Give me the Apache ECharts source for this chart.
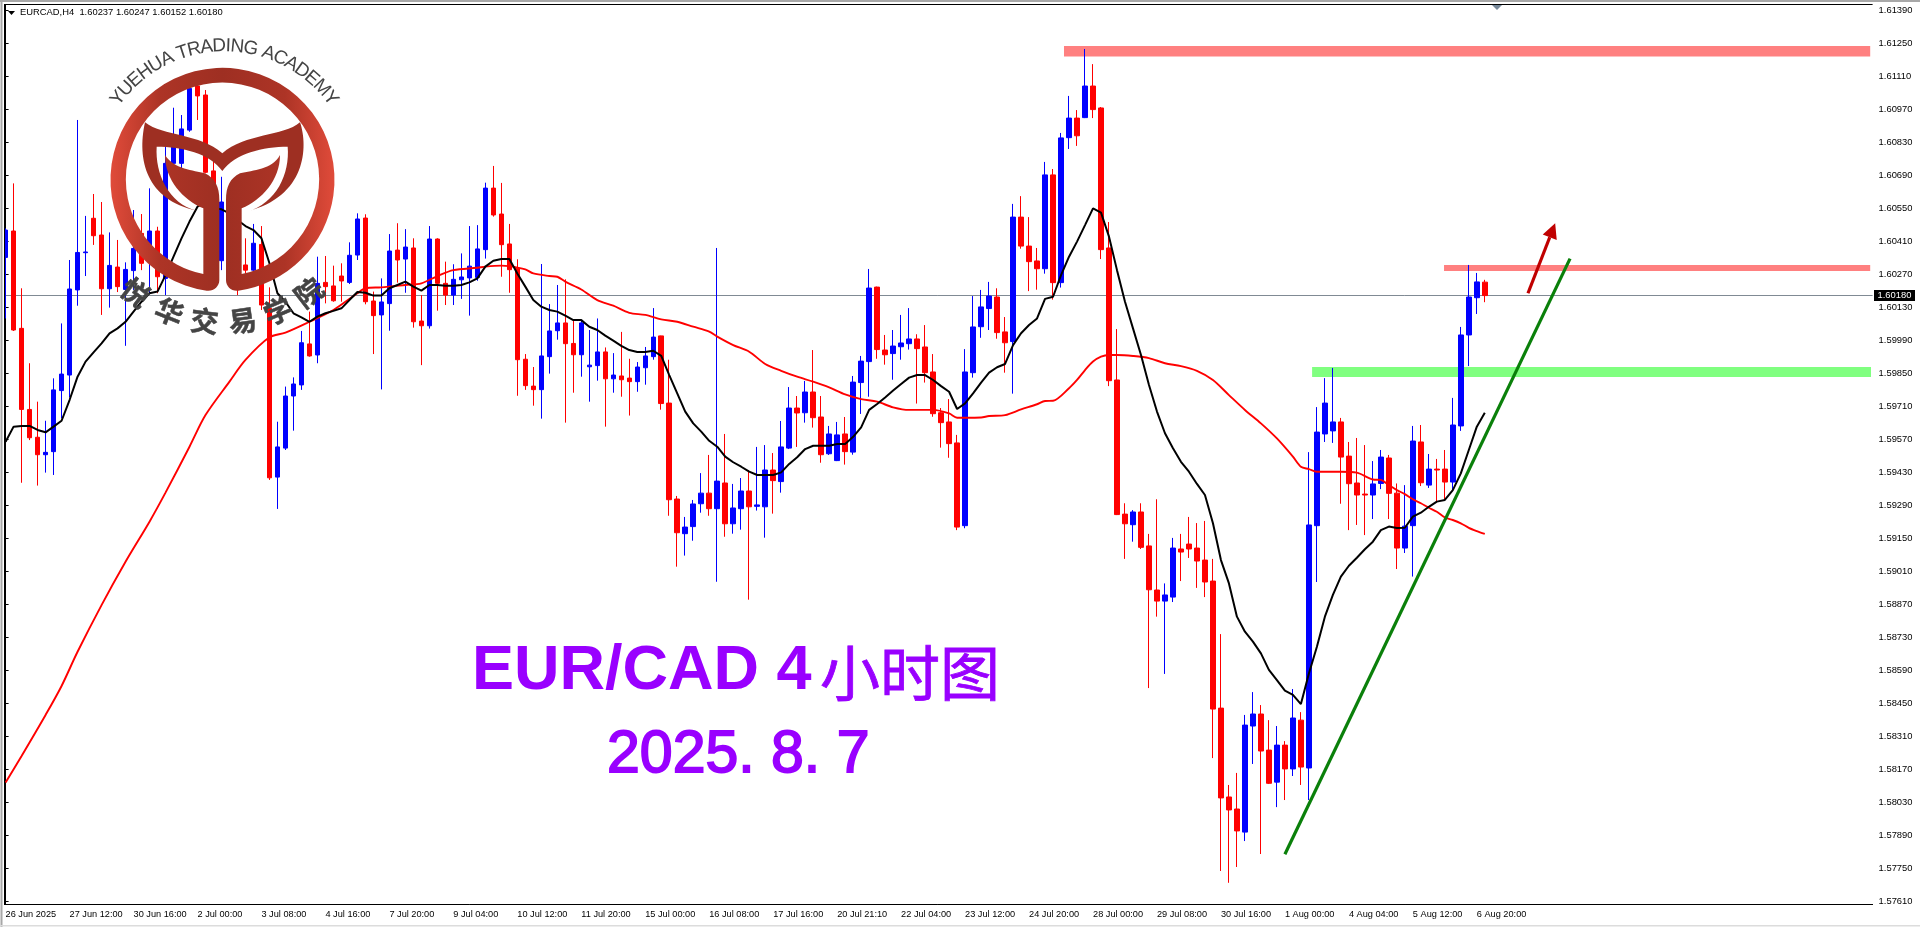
<!DOCTYPE html>
<html><head><meta charset="utf-8">
<style>html,body{margin:0;padding:0;background:#fff}#c{width:1920px;height:927px}</style>
<script src="https://cdn.jsdelivr.net/npm/echarts@6/dist/echarts.min.js"></script>
</head><body><div id="c"></div>
<script>
// Prices are stored in points above 1: 60342 means 1.60342
const opens=[60342,60454,60041,59697,59579,59505,59518,59777,59843,60204,
60362,60508,60437,60209,60301,60206,60286,60444,60387,60454,
60253,60741,60741,60882,61069,61031,60709,60328,60494,60402,
60310,60288,60397,60126,59410,59533,59754,59801,59975,59928,
60236,60221,60263,60236,60352,60509,60157,60098,60146,60373,
60335,60382,60072,60052,60420,60232,60182,60247,60255,60257,
60375,60636,60526,60399,60296,59910,59796,59781,59921,60031,
60064,59977,59929,59878,59883,59941,59827,59839,59830,59815,
59874,59921,60009,59724,59317,59170,59200,59297,59342,59276,
59385,59212,59276,59351,59286,59284,59440,59391,59533,59703,
59683,59771,59665,59509,59480,59593,59516,59811,59900,60216,
59949,59934,59963,59976,59996,59962,59856,59683,59644,59555,
59204,59853,60048,60125,60174,60026,59985,60513,60390,60327,
60294,60692,60235,60850,60933,60935,61069,60976,60382,59822,
59253,59208,59262,59118,58931,58884,58901,59105,59126,59109,
59058,58969,58430,58053,58002,57904,58354,58405,58252,58116,
58273,58172,58379,58176,59204,59593,59606,59644,59499,59385,
59338,59334,59383,59491,59342,59109,59204,59559,59376,59444,
59444,59389,59627,60013,60171,60237];
const highs=[60465,60656,60211,59893,59730,59649,59829,60062,60331,60925,
60518,60611,60577,60448,60416,60321,60543,60526,60635,60472,
60812,60977,60946,61080,61109,61052,60755,60684,60529,60444,
60423,60484,60475,60215,59645,59794,59833,60030,60112,60345,
60348,60307,60317,60406,60529,60525,60197,60253,60441,60487,
60462,60423,60182,60475,60423,60324,60313,60359,60475,60479,
60659,60730,60658,60484,60334,59932,59877,60314,60144,60225,
60249,60076,60076,60034,60083,59960,59936,60026,59912,59898,
59962,60127,60010,59908,59330,59241,59313,59427,59504,60382,
59593,59381,59406,59440,59538,59546,59512,59648,59792,59754,
59818,59949,59754,59627,59644,59665,59839,59924,60293,60218,
60013,60034,60098,60127,60016,60055,59932,59703,59741,59589,
59953,60178,60204,60238,60211,60089,60569,60602,60513,60382,
60747,60717,60870,61027,60967,61226,61162,60980,60492,60038,
59299,59270,59299,59169,59316,58959,59152,59169,59241,59215,
59224,59063,58744,58104,58155,58401,58498,58443,58379,58354,
58290,58511,58413,59516,59707,59830,59873,59661,59559,59576,
59546,59478,59525,59504,59383,59376,59627,59631,59508,59487,
59525,59746,60047,60310,60276,60247];
const lows=[60083,60030,59386,59567,59374,59429,59419,59659,59748,60137,
60263,60395,60098,60129,60195,59967,60204,60288,60190,60190,
60182,60684,60624,60875,60925,60699,60529,60288,60359,60182,
60274,60281,60119,59398,59275,59525,59607,59780,59921,59893,
60147,60154,60154,60229,60331,60143,59932,59782,60031,60235,
60192,60044,59885,60040,60116,60140,60140,60166,60095,60243,
60337,60515,60260,60192,59755,59780,59713,59658,59849,59993,
59641,59768,59836,59730,59819,59624,59768,59751,59671,59772,
59802,59908,59696,59246,59030,59077,59140,59259,59246,58966,
59157,59170,59187,58890,59268,59153,59255,59344,59529,59538,
59641,59620,59471,59504,59478,59463,59505,59678,59751,59912,
59887,59823,59908,59951,59722,59811,59666,59535,59492,59185,
59193,59832,60001,60034,59997,59853,59764,60379,60199,60205,
60273,60163,60214,60802,60815,60933,60933,60335,59796,59249,
59063,59136,59105,58515,58818,58575,58880,58969,59067,58940,
58901,58218,57739,57689,57756,57866,58193,57811,58108,58010,
58040,58142,58104,58040,58965,59559,59555,59297,59185,59207,
59164,59232,59359,59232,59020,59088,58988,59372,59364,59306,
59313,59355,59606,59881,60102,60152];
const closes=[60458,60034,59697,59577,59505,59515,59780,59847,60208,60363,
60365,60434,60209,60308,60218,60291,60380,60317,60454,60260,
60741,60812,60887,61059,61027,60703,60586,60577,60402,60218,
60288,60402,60140,59407,59538,59754,59805,59980,59924,60232,
60218,60158,60242,60351,60505,60154,60095,60153,60369,60331,
60386,60069,60052,60420,60232,60182,60249,60259,60305,60378,
60636,60522,60396,60290,59908,59798,59781,59924,60030,60064,
59976,59929,60064,59885,59941,59827,59843,59823,59815,59877,
59924,60004,59722,59314,59174,59198,59296,59342,59276,59393,
59212,59279,59351,59284,59292,59440,59395,59538,59703,59682,
59771,59662,59505,59593,59589,59518,59813,59902,60212,59951,
59929,59966,59979,59996,59955,59853,59679,59641,59552,59198,
59856,60047,60132,60178,60023,59980,60513,60390,60324,60294,
60692,60235,60849,60933,60858,61069,60969,60375,59819,59251,
59212,59262,59112,58932,58884,58910,59109,59092,59105,59054,
58965,58426,58049,57998,57909,58358,58405,58248,58111,58273,
58172,58388,58180,59207,59601,59724,59644,59495,59382,59334,
59334,59381,59495,59341,59109,59202,59563,59386,59444,59440,
59389,59631,60013,60174,60238,60180];
const maFast=[59560,59624,59627,59627,59610,59600,59624,59649,59737,59836,
59900,59939,59977,60020,60041,60069,60112,60154,60190,60197,
60267,60345,60423,60494,60557,60577,60550,60546,60529,60501,
60475,60458,60423,60317,60190,60154,60105,60088,60069,60091,
60105,60115,60126,60161,60195,60192,60180,60180,60211,60225,
60239,60218,60201,60225,60225,60222,60222,60225,60236,60253,
60303,60328,60335,60335,60274,60218,60161,60133,60119,60112,
60095,60076,60076,60048,60034,60010,59989,59967,59949,59941,
59941,59946,59924,59843,59765,59688,59638,59603,59564,59539,
59497,59473,59454,59433,59419,59419,59419,59430,59466,59494,
59529,59543,59543,59543,59550,59550,59581,59621,59695,59720,
59748,59777,59805,59832,59843,59843,59822,59796,59772,59699,
59723,59765,59811,59853,59876,59890,59970,60020,60055,60083,
60166,60175,60267,60345,60409,60479,60550,60532,60430,60288,
60154,60041,59928,59801,59688,59596,59532,59475,59433,59381,
59334,59214,59058,58959,58818,58754,58712,58662,58592,58549,
58504,58486,58447,58577,58690,58818,58910,58988,59034,59068,
59104,59136,59185,59200,59194,59195,59242,59259,59284,59306,
59313,59355,59426,59525,59624,59683];
const maSlowIdx=[0,2,5,7,9,12,15,18,20,23,25,28,30,33,35,38,41,44,45,47,50,52,54,56,59,60,62,63,65,66,68,69,70,72,74,76,78,80,82,84,86,88,89,91,93,95,97,99,101,103,105,107,109,111,113,115,116,118,119,120,122,123,125,127,129,130,131,133,134,135,136,137,138,139,141,143,145,147,149,151,153,155,157,159,161,162,163,164,167,169,171,172,173,174,175,176,177,178,179,180,181,182,183,184,185];
const maSlow=[58114,58227,58401,58524,58669,58867,59051,59221,59344,59539,59673,59815,59907,60003,60023,60069,60119,60190,60211,60215,60225,60232,60263,60288,60298,60303,60307,60305,60291,60274,60263,60260,60239,60206,60161,60137,60107,60098,60079,60069,60048,60027,60006,59970,59942,59890,59861,59836,59815,59791,59761,59741,59730,59706,59695,59695,59695,59680,59662,59662,59663,59669,59673,59697,59719,59733,59734,59787,59822,59864,59900,59921,59928,59928,59924,59915,59893,59881,59861,59822,59758,59695,59638,59574,59497,59454,59444,59433,59433,59429,59400,59398,59376,59355,59338,59316,59299,59280,59263,59239,59228,59214,59195,59181,59169];
const xTickLabels=['26 Jun 2025','27 Jun 12:00','30 Jun 16:00','2 Jul 00:00','3 Jul 08:00','4 Jul 16:00','7 Jul 20:00','9 Jul 04:00','10 Jul 12:00','11 Jul 20:00','15 Jul 00:00','16 Jul 08:00','17 Jul 16:00','20 Jul 21:10','22 Jul 04:00','23 Jul 12:00','24 Jul 20:00','28 Jul 00:00','29 Jul 08:00','30 Jul 16:00','1 Aug 00:00','4 Aug 04:00','5 Aug 12:00','6 Aug 20:00'];
const yTicks=[1.5761,1.5775,1.5789,1.5803,1.5817,1.5831,1.5845,1.5859,1.5873,1.5887,1.5901,1.5915,1.5929,1.5943,1.5957,1.5971,1.5985,1.5999,1.6013,1.6027,1.6041,1.6055,1.6069,1.6083,1.6097,1.6111,1.6125,1.6139];
const lastPrice=1.6018;
// zones: start bar, end bar, upper price, lower price
const zones=[[132.37,233.2,61239,61194,'#ff8080'],[179.9,233.2,60310,60284,'#ff8080'],[163.4,233.3,59877,59835,'#80ff80']];
const trendLine=[[160.0,57810],[195.66,60337]];
const arrowLine=[[190.4,60190],[193.8,60487]];
const logoEn='YUEHUA TRADING ACADEMY';
const logoCn=['悦','华','交','易','学','院'];
const logoCnAngles=[37.6,21.8,7.2,-8.2,-23,-37.6];

const SLOTS=234;
const P=v=>1+v/100000;
const categories=Array.from({length:SLOTS},(_,i)=>i%8===0&&xTickLabels[i/8]?xTickLabels[i/8]:'');
const candleData=opens.map((o,i)=>[P(o),P(closes[i]),P(lows[i]),P(highs[i])]);
const maFastData=maFast.map(P);
const maSlowData=maSlow.map((v,i)=>[maSlowIdx[i],P(v)]);

const UI='"Liberation Sans",Arial,sans-serif';
const chart=echarts.init(document.getElementById('c'),null,{renderer:'canvas'});

echarts.graphic.registerShape('logoRing',echarts.graphic.extendPath('M495,465 C525,510 580,510 615,520 C645,535 658,560 658,600 L658,840 C658,860 640,875 620,872 A336,336 0 1 1 715,872 C695,875 678,860 678,840 L678,600 C678,560 690,535 720,520 C760,510 815,510 840,465 C840,540 785,600 725,625 L725,822 A290,290 0 1 0 610,822 L610,625 C550,600 495,540 495,465 Z',{}));
echarts.graphic.registerShape('logoTail',echarts.graphic.extendPath('M435,367 C490,410 600,400 667,460 C735,400 850,410 900,367 C925,440 920,590 740,635 C830,610 870,520 863,440 C790,440 705,460 667,513 C630,460 545,440 470,440 C465,520 505,610 590,632 C440,600 410,480 435,367 Z',{}));

const logoCx=222.3,logoCy=180,logoZ=50;
const ctx=document.createElement('canvas').getContext('2d');
const enFont=19;
ctx.font=enFont+'px "Liberation Sans"';
const w=[...logoEn].map(c=>ctx.measureText(c).width);
const total=w.reduce((a,b)=>a+b,0);
const R=134,span=110*Math.PI/180,k=span*R/total;
let cum=0;
const enEls=[...logoEn].map((c,i)=>{
  const a=(cum+w[i]/2-total/2)*k/R; cum+=w[i];
  return {type:'text',x:logoCx+2+R*Math.sin(a),y:logoCy-R*Math.cos(a),rotation:-a,z:logoZ,
    style:{text:c,fill:'#444444',font:enFont+'px "Liberation Sans"',textAlign:'center',textVerticalAlign:'middle'}};
});
const cnEls=logoCn.map((c,i)=>{
  const a=logoCnAngles[i]*Math.PI/180,r=142;
  return {type:'text',x:logoCx-r*Math.sin(a),y:logoCy+r*Math.cos(a),rotation:-a,z:logoZ,
    style:{text:c,fill:'#444444',stroke:'#444444',lineWidth:0.5,font:'bold 28px "Noto Sans CJK SC"',textAlign:'center',textVerticalAlign:'middle'}};
});

const ringFill=new echarts.graphic.LinearGradient(0,0,1,0,[{offset:0,color:'#e04b3a'},{offset:.22,color:'#ad3426'},{offset:.5,color:'#9e2f22'},{offset:.78,color:'#ad3426'},{offset:1,color:'#e04b3a'}]);

chart.setOption({
  animation:false,backgroundColor:'#fff',
  grid:{left:1.6,top:4,width:1871,height:900,containLabel:false},
  xAxis:[{type:'category',data:categories,boundaryGap:true,
      axisLine:{lineStyle:{color:'#000',width:1}},
      axisTick:{alignWithLabel:true,interval:7,length:3,lineStyle:{color:'#000'}},
      axisLabel:{interval:7,align:'left',margin:6,color:'#000',fontSize:9.2,fontFamily:UI,showMinLabel:true,showMaxLabel:false,hideOverlap:false},
      splitLine:{show:false}},
    {type:'value',min:-0.5,max:233.5,show:false}],
  yAxis:{type:'value',position:'right',min:1.57599,max:1.61417,scale:true,
    axisLine:{show:true,lineStyle:{color:'#000',width:1}},
    axisTick:{show:true,length:3,customValues:yTicks,lineStyle:{color:'#000'}},
    axisLabel:{customValues:yTicks,margin:6,color:'#000',fontSize:9.4,fontFamily:UI,formatter:v=>Number(v).toFixed(5),showMinLabel:true,showMaxLabel:true},
    splitLine:{show:false}},
  series:[
    {type:'custom',name:'zones',xAxisIndex:1,yAxisIndex:0,z:1,clip:false,silent:true,data:zones.map(z=>[z[0],z[1],P(z[2]),P(z[3])]),
      renderItem:(p,api)=>{
        const a=api.coord([api.value(0),api.value(2)]),b=api.coord([api.value(1),api.value(3)]);
        return {type:'rect',shape:{x:a[0],y:a[1],width:b[0]-a[0],height:b[1]-a[1]},style:{fill:zones[p.dataIndex][4]}};
      }},
    {type:'custom',name:'last price',xAxisIndex:1,yAxisIndex:0,z:2,clip:false,silent:true,data:[[-0.5,lastPrice,233.5]],
      renderItem:(p,api)=>{
        const a=api.coord([api.value(0),api.value(1)]),b=api.coord([api.value(2),api.value(1)]);
        const y=Math.floor(a[1])+0.5;
        return {type:'group',children:[
          {type:'line',shape:{x1:a[0],y1:y,x2:b[0],y2:y},style:{stroke:'#808a94',lineWidth:1,fill:null}},
          {type:'rect',shape:{x:b[0]+1.4,y:y-5.5,width:41,height:11},style:{fill:'#000'}},
          {type:'text',x:b[0]+21.9,y:y+0.3,style:{text:lastPrice.toFixed(5),fill:'#fff',font:'9.4px '+UI,textAlign:'center',textVerticalAlign:'middle'}}
        ]};
      }},
    {type:'candlestick',name:'EURCAD',data:candleData,barWidth:5,z:3,large:false,progressive:0,
      itemStyle:{color:'#0000ff',color0:'#ff0000',borderColor:'#0000ff',borderColor0:'#ff0000',borderWidth:1}},
    {type:'line',name:'MA slow',data:maSlowData,smooth:0.3,showSymbol:false,symbol:'none',z:4,lineStyle:{color:'#ff0000',width:1.9}},
    {type:'line',name:'MA fast',data:maFastData,showSymbol:false,symbol:'none',z:5,lineStyle:{color:'#000',width:2}},
    {type:'custom',name:'trend',xAxisIndex:1,yAxisIndex:0,z:6,clip:false,silent:true,data:[[trendLine[0][0],P(trendLine[0][1]),trendLine[1][0],P(trendLine[1][1])]],
      renderItem:(p,api)=>{
        const a=api.coord([api.value(0),api.value(1)]),b=api.coord([api.value(2),api.value(3)]);
        return {type:'line',shape:{x1:a[0],y1:a[1],x2:b[0],y2:b[1]},style:{stroke:'#0a800a',lineWidth:3.2,fill:null}};
      }},
    {type:'custom',name:'arrow',xAxisIndex:1,yAxisIndex:0,z:7,clip:false,silent:true,data:[[arrowLine[0][0],P(arrowLine[0][1]),arrowLine[1][0],P(arrowLine[1][1])]],
      renderItem:(p,api)=>{
        const a=api.coord([api.value(0),api.value(1)]),b=api.coord([api.value(2),api.value(3)]);
        const dx=b[0]-a[0],dy=b[1]-a[1],L=Math.hypot(dx,dy),ux=dx/L,uy=dy/L,hl=15,hw=7.5;
        const bx=b[0]-ux*hl,by=b[1]-uy*hl;
        return {type:'group',children:[
          {type:'line',shape:{x1:a[0],y1:a[1],x2:bx,y2:by},style:{stroke:'#c00000',lineWidth:3.2,fill:null}},
          {type:'polygon',shape:{points:[[b[0],b[1]],[bx-uy*hw,by+ux*hw],[bx+uy*hw,by-ux*hw]]},style:{fill:'#c00000'}}
        ]};
      }}
  ],
  graphic:{elements:[
    {type:'rect',shape:{x:0,y:0,width:4,height:927},style:{fill:'#fff'},z:40,silent:true},
    {type:'rect',shape:{x:0,y:0,width:1920,height:4},style:{fill:'#fff'},z:40,silent:true},
    {type:'rect',shape:{x:0,y:0,width:1920,height:2},style:{fill:'#a8a8a8'},z:41,silent:true},
    {type:'rect',shape:{x:0.5,y:0,width:2,height:927},style:{fill:'#a8a8a8'},z:41,silent:true},
    {type:'rect',shape:{x:4,y:4,width:1868.6,height:1},style:{fill:'#000'},z:42,silent:true},
    {type:'rect',shape:{x:4,y:4,width:1,height:900},style:{fill:'#000'},z:42,silent:true},
    {type:'rect',shape:{x:0,y:925,width:1920,height:1.4},style:{fill:'#dcdcdc'},z:41,silent:true},
    {type:'polygon',shape:{points:[[8,11],[15,11],[11.5,15]]},style:{fill:'#000'},z:43,silent:true},
    {type:'text',x:20,y:12.5,z:43,silent:true,style:{text:'EURCAD,H4  1.60237 1.60247 1.60152 1.60180',fill:'#000',font:'9.4px '+UI,textVerticalAlign:'middle'}},
    {type:'polygon',shape:{points:[[1492,5],[1502,5],[1497,10]]},style:{fill:'#778899'},z:43,silent:true},
    {type:'logoRing',scaleX:1/3,scaleY:1/3,z:logoZ,silent:true,style:{fill:ringFill}},
    {type:'logoTail',scaleX:1/3,scaleY:1/3,z:logoZ,silent:true,style:{fill:'#9e2f22'}},
    ...enEls,...cnEls,
    {type:'text',x:472,y:672,z:60,silent:true,style:{text:'EUR/CAD 4',fill:'#9900ff',font:'bold 63px '+UI,textVerticalAlign:'middle'}},
    {type:'text',x:820,y:673,z:60,silent:true,style:{text:'小时图',fill:'#9900ff',stroke:'#9900ff',lineWidth:0.8,font:'400 60px "Noto Sans CJK SC"',textVerticalAlign:'middle'}},
    {type:'text',x:607,y:756,z:60,silent:true,style:{text:'2025. 8. 7',fill:'#9900ff',stroke:'#9900ff',lineWidth:1.8,font:'59px '+UI,textVerticalAlign:'middle'}}
  ]}
});
</script></body></html>
